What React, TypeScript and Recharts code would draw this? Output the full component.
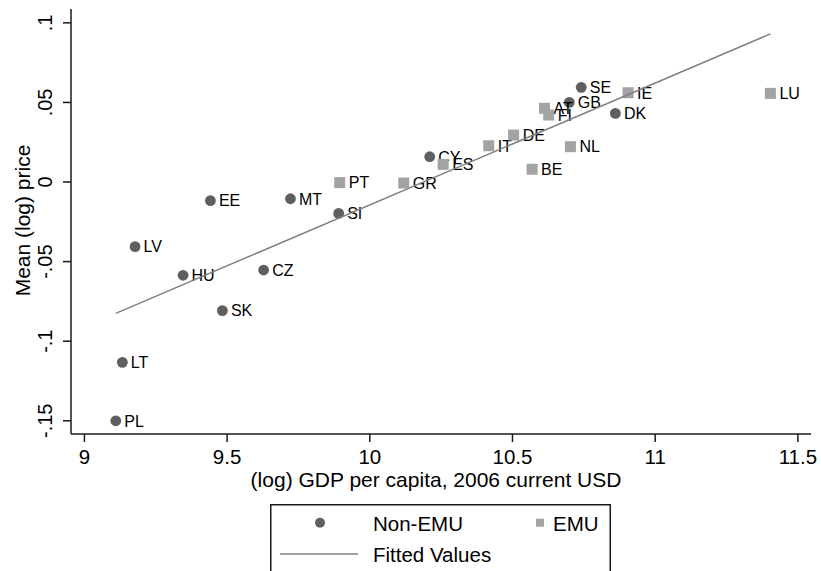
import { ScatterChart, Scatter, XAxis, YAxis } from 'recharts'

// country points
const nonEmuNames = ['PL', 'LT', 'LV', 'HU', 'EE', 'SK', 'CZ', 'MT', 'SI', 'CY', 'GB', 'SE', 'DK']
const nonEmuX = [9.11, 9.133, 9.1775, 9.3457, 9.4415, 9.4835, 9.628, 9.722, 9.891, 10.21, 10.699, 10.741, 10.8606]
const nonEmuY = [-0.15, -0.1133, -0.0406, -0.0586, -0.0117, -0.0808, -0.0553, -0.0105, -0.0197, 0.0159, 0.05, 0.0595, 0.0431]

const emuNames = ['PT', 'GR', 'ES', 'IT', 'DE', 'BE', 'AT', 'FI', 'NL', 'IE', 'LU']
const emuX = [9.8946, 10.119, 10.257, 10.4167, 10.504, 10.5686, 10.612, 10.627, 10.703, 10.905, 11.4037]
const emuY = [-0.0004, -0.0006, 0.0111, 0.0228, 0.0295, 0.008, 0.0463, 0.0421, 0.0222, 0.0561, 0.0557]

// fitted regression line endpoints
const fitX = [9.11, 11.404]
const fitY = [-0.0825, 0.0931]

const xTicks = [9, 9.5, 10, 10.5, 11, 11.5]
const yTicks = [0.1, 0.05, 0, -0.05, -0.1, -0.15]
const yTickLabels = ['.1', '.05', '0', '-.05', '-.1', '-.15']

const X_DOMAIN: [number, number] = [8.953, 11.546]
const Y_DOMAIN: [number, number] = [-0.1583, 0.1087]

const FONT = '"Liberation Sans", Arial, sans-serif'
const AXIS = '#1a1a1a'
const DARK = '#5f5f5f'
const LIGHT = '#a3a3a3'
const LINE = '#808080'

const nonEmu = nonEmuNames.map((name, i) => ({ name, x: nonEmuX[i], y: nonEmuY[i] }))
const emu = emuNames.map((name, i) => ({ name, x: emuX[i], y: emuY[i] }))
const fitted = fitX.map((x, i) => ({ x, y: fitY[i] }))

const CircleMark = (p: any) => (
  <g>
    <circle cx={p.cx} cy={p.cy} r={5.4} fill={DARK} />
    <text x={p.cx + 8.5} y={p.cy + 5.8} fontSize={16} fontFamily={FONT} fill="#000">
      {p.payload.name}
    </text>
  </g>
)

const SquareMark = (p: any) => (
  <g>
    <rect x={p.cx - 5.5} y={p.cy - 5.5} width={11} height={11} fill={LIGHT} />
    <text x={p.cx + 9} y={p.cy + 5.8} fontSize={16} fontFamily={FONT} fill="#000">
      {p.payload.name}
    </text>
  </g>
)

const XTick = (p: any) => (
  <text x={p.x} y={p.y + 20} textAnchor="middle" fontSize={20.5} fontFamily={FONT} fill="#000">
    {p.payload.value}
  </text>
)

const YTick = (p: any) => {
  const idx = yTicks.indexOf(p.payload.value)
  const bx = 52
  return (
    <text
      x={bx}
      y={p.y}
      transform={`rotate(-90 ${bx} ${p.y})`}
      textAnchor="middle"
      fontSize={20}
      fontFamily={FONT}
      fill="#000"
    >
      {idx >= 0 ? yTickLabels[idx] : p.payload.value}
    </text>
  )
}

const XTitle = (props: any) => {
  const vb = props.viewBox ?? { x: 71, y: 434, width: 740 }
  return (
    <text x={vb.x + vb.width / 2 - 5} y={vb.y + 53} textAnchor="middle" fontSize={21} fontFamily={FONT} fill="#000">
      (log) GDP per capita, 2006 current USD
    </text>
  )
}

const YTitle = (props: any) => {
  const vb = props.viewBox ?? { y: 9, height: 425 }
  const cy = vb.y + vb.height / 2 - 1
  return (
    <text x={29.5} y={cy} transform={`rotate(-90 29.5 ${cy})`} textAnchor="middle" fontSize={21} fontFamily={FONT} fill="#000">
      Mean (log) price
    </text>
  )
}

function ChartLegend() {
  return (
    <svg width={341} height={90} style={{ position: 'absolute', left: 270, top: 504 }}>
      <rect x={0.75} y={0.75} width={339.5} height={100} fill="#fff" stroke={AXIS} strokeWidth={1.5} />
      <circle cx={50} cy={18.7} r={5} fill={DARK} />
      <text x={103} y={26.5} fontSize={20.5} fontFamily={FONT} fill="#000">Non-EMU</text>
      <rect x={266} y={14.7} width={8} height={8} fill={LIGHT} />
      <text x={283} y={26.5} fontSize={20.5} fontFamily={FONT} fill="#000">EMU</text>
      <line x1={10} x2={88} y1={50} y2={50} stroke={LINE} strokeWidth={1.5} />
      <text x={103} y={57.5} fontSize={20.5} fontFamily={FONT} fill="#000">Fitted Values</text>
    </svg>
  )
}

export default function App() {
  return (
    <div style={{ position: 'absolute', left: 0, top: 0, width: 821, height: 571, overflow: 'hidden', background: '#fff' }}>
      <ScatterChart width={821} height={571} margin={{ top: 9, right: 10, bottom: 0, left: 0 }}>
        <XAxis
          type="number"
          dataKey="x"
          domain={X_DOMAIN}
          ticks={xTicks}
          allowDataOverflow
          height={137}
          tickSize={8}
          tick={<XTick />}
          axisLine={{ stroke: AXIS, strokeWidth: 1.5 }}
          tickLine={{ stroke: AXIS, strokeWidth: 1.5 }}
          label={XTitle}
        />
        <XAxis
          xAxisId="top"
          orientation="top"
          type="number"
          domain={X_DOMAIN}
          allowDataOverflow
          height={0}
          tick={false}
          tickLine={false}
          axisLine={{ stroke: AXIS, strokeWidth: 1.5 }}
        />
        <YAxis
          type="number"
          dataKey="y"
          domain={Y_DOMAIN}
          ticks={yTicks}
          allowDataOverflow
          width={71}
          tickSize={8}
          tick={<YTick />}
          axisLine={{ stroke: AXIS, strokeWidth: 1.5 }}
          tickLine={{ stroke: AXIS, strokeWidth: 1.5 }}
          label={YTitle}
        />
        <YAxis
          yAxisId="right"
          orientation="right"
          type="number"
          domain={Y_DOMAIN}
          allowDataOverflow
          width={0}
          tick={false}
          tickLine={false}
          axisLine={{ stroke: AXIS, strokeWidth: 1.5 }}
        />
        <Scatter name="Non-EMU" data={nonEmu} shape={CircleMark} isAnimationActive={false} />
        <Scatter name="EMU" data={emu} shape={SquareMark} isAnimationActive={false} />
        <Scatter
          name="Fitted Values"
          data={fitted}
          line={{ stroke: LINE, strokeWidth: 1.5 }}
          shape={() => <g />}
          isAnimationActive={false}
        />
      </ScatterChart>
      <ChartLegend />
    </div>
  )
}
